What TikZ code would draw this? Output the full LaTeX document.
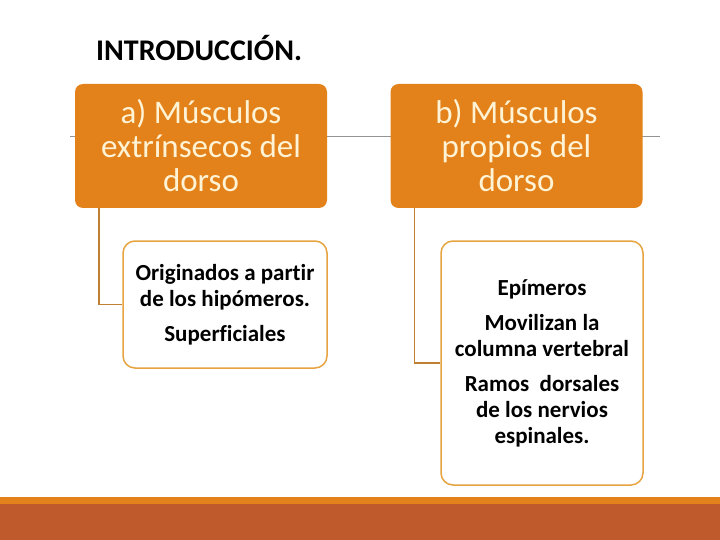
\documentclass[tikz,border=0pt]{standalone}
\usepackage{fontspec}
\setmainfont{Carlito}[Ligatures=CommonOff]
\usetikzlibrary{positioning}

\definecolor{naranja}{HTML}{E3821A}
\definecolor{crema}{HTML}{FFF3D6}
\definecolor{borde}{HTML}{E6A340}
\definecolor{conector}{HTML}{BF8034}
\definecolor{franja}{HTML}{E3821A}
\definecolor{fondo}{HTML}{BE5A2C}

\tikzset{
    padre/.style={rectangle, rounded corners=8pt, fill=naranja, text=crema,
        minimum width=252pt, minimum height=124pt,
        align=center, inner sep=0pt,
        font=\fontsize{33}{34}\selectfont},
    hijo/.style={rectangle, rounded corners=12pt, draw=borde, line width=1.5pt,
        fill=white, align=center, inner sep=0pt,
        font=\fontsize{23}{26}\selectfont\bfseries},
    conn/.style={draw=conector, line width=1.5pt},
    linea/.style={draw=gray!85, line width=0.8pt}
}

\begin{document}
\begin{tikzpicture}[x=1pt, y=-1pt]
    \useasboundingbox (0, 0) rectangle (720, 540);
    % franjas inferiores
    \fill [fondo] (0, 504) rectangle (720, 540);
    \fill [franja] (0, 497) rectangle (720, 504);
    % titulo
    \node [anchor=base west, inner sep=0pt, font=\fontsize{30}{34}\selectfont\bfseries] (titulo) at (96, 61) {INTRODUCCIÓN.};
    % linea de fondo
    \coordinate (lineaI) at (70, 136);
    \coordinate (lineaD) at (660, 136);
    \draw [linea] (lineaI) -- (lineaD);
    % cajas principales
    \node [padre] (padreA) at (201, 146) {a) Músculos\\ extrínsecos del\\ dorso};
    \node [padre] (padreB) at (516.5, 146) {b) Músculos\\ propios del\\ dorso};
    % cajas secundarias
    \node [hijo, minimum width=204pt, minimum height=127pt] (hijoA) at (225, 304.5)
        {Originados a partir\\ de los hipómeros.\\[9pt] Superficiales};
    \node [hijo, minimum width=202pt, minimum height=244pt] (hijoB) at (542, 363)
        {Epímeros\\[9pt] Movilizan la\\ columna vertebral\\[9pt] Ramos~ dorsales\\ de los nervios\\ espinales.};
    % conectores
    \draw [conn] (padreA.south west) ++(24, 0) |- (hijoA.west);
    \draw [conn] (padreB.south west) ++(24, 0) |- (hijoB.west);
\end{tikzpicture}
\end{document}
